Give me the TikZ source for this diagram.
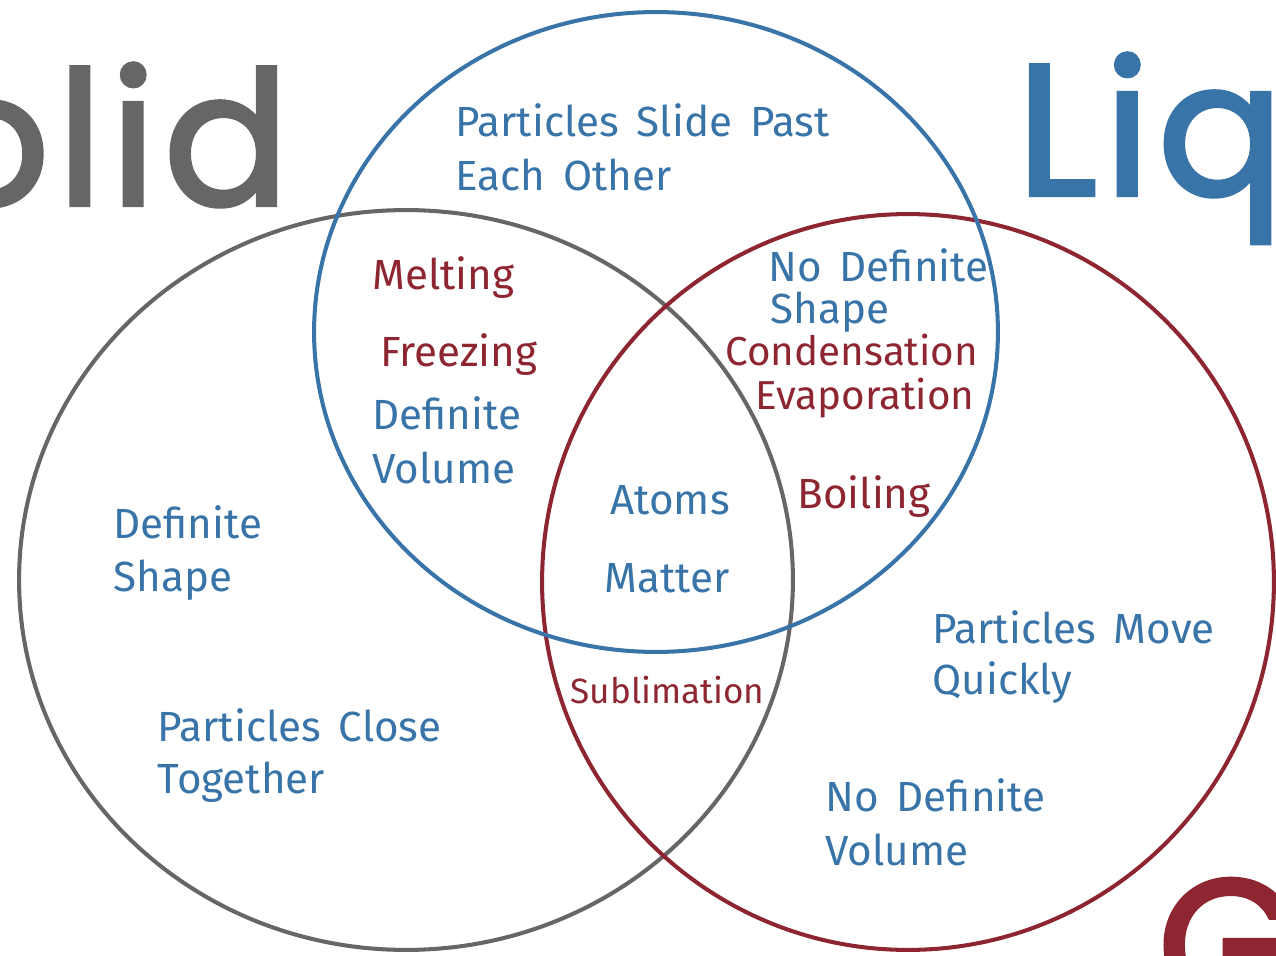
\documentclass[tikz,border=0pt]{standalone}
\usepackage{tikz}
\usetikzlibrary{shapes.geometric}
\usepackage{fontspec}
\setmainfont{Poppins}
\newfontfamily\bigword[LetterSpace=4,FakeBold=2.2]{Poppins}
\newfontfamily\hand[WordSpace=1.6]{Fira Sans}

\definecolor{solidgray}{RGB}{102,102,102}
\definecolor{liqblue}{RGB}{56,116,168}
\definecolor{gasred}{RGB}{142,38,50}

\begin{document}
\begin{tikzpicture}[x=0.02cm, y=-0.02cm, semithick]
  \tikzstyle{ring}=[draw, ellipse, line width=2.3pt, inner sep=0pt]
  \tikzstyle{title}=[inner sep=0pt, font=\bigword\fontsize{106}{106}\selectfont]
  \tikzstyle{bluenote}=[inner sep=0pt, anchor=west, text=liqblue, font=\hand\fontsize{24}{24}\selectfont]
  \tikzstyle{rednote}=[inner sep=0pt, anchor=west, text=gasred, font=\hand\fontsize{24}{24}\selectfont]
  \useasboundingbox (0,0) rectangle (1276,956);

  % the three phases
  \node[ring, draw=solidgray, minimum width=15.48cm, minimum height=14.8cm] (solid)  at (406,580) {};
  \node[ring, draw=gasred,    minimum width=14.64cm, minimum height=14.72cm] (gas) at (908,582) {};
  \node[ring, draw=liqblue,   minimum width=13.68cm, minimum height=12.8cm] (liquid) at (656,332) {};

  % big titles, running off the page
  \node[title, anchor=base east, text=solidgray] (tsolid)  at (290,205)  {Solid};
  \node[title, anchor=base west, text=liqblue]   (tliquid) at (1016,195) {Liquid};
  \node[title, anchor=base west, text=gasred]    (tgas)    at (1157,1010) {Gas};

  % liquid only
  \node[bluenote] (slide)  at (455,120) {Particles Slide Past};
  \node[bluenote] (other)  at (455,175) {Each Other};

  % solid and liquid
  \node[rednote]  (melt)   at (372,278) {Melting};
  \node[rednote]  (freeze) at (380,355) {Freezing};
  \node[bluenote] (defvol) at (372,413) {Definite};
  \node[bluenote] (vol)    at (372,468) {Volume};

  % liquid and gas
  \node[bluenote] (nodef)  at (768,265) {No Definite};
  \node[bluenote] (shape)  at (770,312) {Shape};
  \node[rednote, font=\hand\fontsize{23}{23}\selectfont] (cond) at (725,350) {Condensation};
  \node[rednote, font=\hand\fontsize{23}{23}\selectfont] (evap) at (755,398) {Evaporation};
  \node[rednote]  (boil)   at (797,497) {Boiling};

  % all three
  \node[bluenote] (atoms)  at (610,500) {Atoms};
  \node[bluenote] (matter) at (604,578) {Matter};

  % solid and gas
  \node[rednote, font=\hand\fontsize{20}{20}\selectfont] (subl) at (570,690) {Sublimation};

  % solid only
  \node[bluenote] (defsh)  at (113,522) {Definite};
  \node[bluenote] (shp)    at (113,580) {Shape};
  \node[bluenote] (close)  at (157,725) {Particles Close};
  \node[bluenote] (toget)  at (157,782) {Together};

  % gas only
  \node[bluenote] (move)   at (932,627) {Particles Move};
  \node[bluenote] (quick)  at (932,683) {Quickly};
  \node[bluenote] (novol)  at (825,795) {No Definite};
  \node[bluenote] (vol2)   at (825,850) {Volume};
\end{tikzpicture}
\end{document}
